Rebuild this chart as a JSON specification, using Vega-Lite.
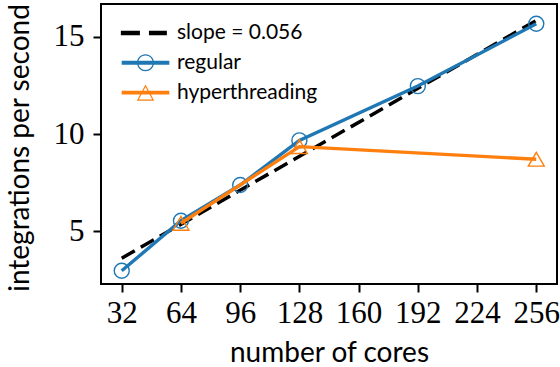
{
  "$schema": "https://vega.github.io/schema/vega-lite/v6.json",
  "width": 456,
  "height": 280,
  "autosize": {"type": "none"},
  "padding": {"left": 101, "top": 4, "right": 3, "bottom": 83},
  "background": "white",
  "config": {
    "view": {"stroke": "black", "strokeWidth": 2},
    "axis": {
      "domain": false,
      "grid": false,
      "tickColor": "black",
      "tickWidth": 2,
      "tickSize": 8,
      "labelFont": "Liberation Serif",
      "labelFontSize": 31,
      "labelColor": "black",
      "titleFont": "Lato",
      "titleFontSize": 28,
      "titleFontWeight": "normal",
      "titleColor": "black"
    },
    "legend": {
      "orient": "none",
      "legendX": 28,
      "legendY": 12.5,
      "padding": 0,
      "symbolSize": 1080,
      "symbolStrokeWidth": 0,
      "symbolOpacity": 1,
      "labelFont": "Lato",
      "labelFontSize": 21,
      "labelColor": "black",
      "labelOffset": 15,
      "rowPadding": 2.8
    }
  },
  "data": {
    "values": [
      {"series": "slope = 0.056", "cores": 32, "value": 3.6},
      {"series": "slope = 0.056", "cores": 256, "value": 15.85},
      {"series": "regular", "cores": 32, "value": 2.95},
      {"series": "regular", "cores": 64, "value": 5.53},
      {"series": "regular", "cores": 96, "value": 7.37},
      {"series": "regular", "cores": 128, "value": 9.67},
      {"series": "regular", "cores": 192, "value": 12.47},
      {"series": "regular", "cores": 256, "value": 15.68},
      {"series": "hyperthreading", "cores": 64, "value": 5.4},
      {"series": "hyperthreading", "cores": 128, "value": 9.35},
      {"series": "hyperthreading", "cores": 256, "value": 8.7}
    ]
  },
  "encoding": {
    "x": {
      "field": "cores",
      "type": "quantitative",
      "scale": {"domain": [20.8, 267.2], "nice": false, "zero": false},
      "axis": {
        "values": [32, 64, 96, 128, 160, 192, 224, 256],
        "title": "number of cores",
        "labelBaseline": "alphabetic",
        "labelPadding": 30,
        "titleBaseline": "alphabetic",
        "titleY": 77.5
      }
    },
    "y": {
      "field": "value",
      "type": "quantitative",
      "scale": {"domain": [2.27, 16.7], "nice": false, "zero": false},
      "axis": {
        "values": [5, 10, 15],
        "title": "integrations per second",
        "labelPadding": 9,
        "titleBaseline": "alphabetic",
        "titleX": -73,
        "titleY": 143.5
      }
    }
  },
  "layer": [
    {
      "transform": [{"filter": "datum.series === 'slope = 0.056'"}],
      "mark": {"type": "line", "color": "black", "strokeWidth": 3.5, "strokeDash": [15, 7]}
    },
    {
      "transform": [{"filter": "datum.series === 'regular'"}],
      "mark": {"type": "line", "color": "#1f77b4", "strokeWidth": 3.4}
    },
    {
      "transform": [{"filter": "datum.series === 'regular'"}],
      "mark": {"type": "point", "shape": "circle", "filled": false, "opacity": 1, "color": "#1f77b4", "strokeWidth": 1.4, "size": 225}
    },
    {
      "transform": [{"filter": "datum.series === 'hyperthreading'"}],
      "mark": {"type": "line", "color": "#ff7f0e", "strokeWidth": 3.4}
    },
    {
      "transform": [{"filter": "datum.series === 'hyperthreading'"}],
      "mark": {"type": "point", "shape": "triangle-up", "filled": false, "opacity": 1, "color": "#ff7f0e", "strokeWidth": 1.4, "size": 256}
    },
    {
      "transform": [{"filter": "false"}],
      "mark": {"type": "point", "filled": true, "opacity": 1, "strokeWidth": 0},
      "encoding": {
        "color": {
          "field": "series",
          "type": "nominal",
          "scale": {"domain": ["slope = 0.056", "regular", "hyperthreading"], "range": ["black", "#1f77b4", "#ff7f0e"]},
          "legend": {"title": null}
        },
        "shape": {
          "field": "series",
          "type": "nominal",
          "scale": {
            "domain": ["slope = 0.056", "regular", "hyperthreading"],
            "range": [
              "M-1.5,-0.13H-0.34V0.13H-1.5ZM0.21,-0.13H1.3V0.13H0.21Z",
              "M-1.45,-0.12H1.45V0.12H-1.45ZM0.52,0A0.52,0.52,0,1,1,-0.52,0A0.52,0.52,0,1,1,0.52,0ZM0.44,0A0.44,0.44,0,1,0,-0.44,0A0.44,0.44,0,1,0,0.44,0Z",
              "M-1.45,-0.12H1.45V0.12H-1.45ZM0,-0.5L0.53,0.5L-0.53,0.5ZM0,-0.34L-0.41,0.42L0.41,0.42Z"
            ]
          },
          "legend": {"title": null}
        }
      }
    }
  ]
}
